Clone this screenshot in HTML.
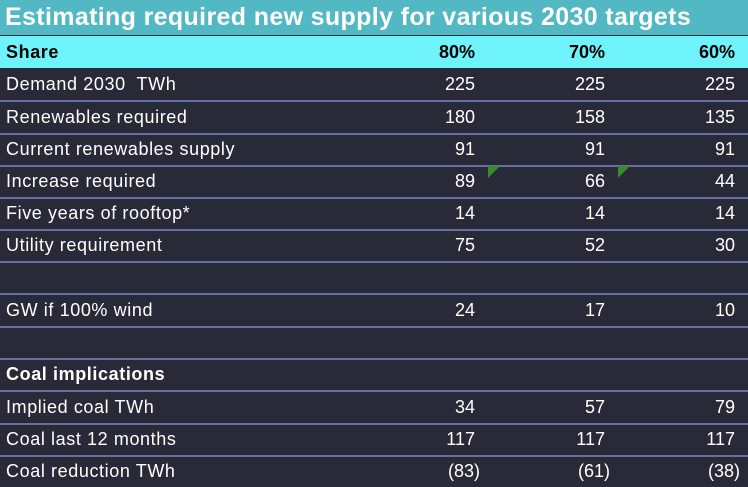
<!DOCTYPE html>
<html><head><style>
body{margin:0;width:748px;height:484px;overflow:hidden;background:#292a38;font-family:"Liberation Sans",sans-serif;position:relative}
.t{position:absolute;left:0;top:0;width:748px;height:35px;background:#52b8c4;color:#fff;font-weight:bold;font-size:25px;line-height:35px;padding-left:5px;box-sizing:border-box;white-space:nowrap;letter-spacing:0.35px}
.r{position:absolute;left:0;width:748px;height:32px;color:#fff;font-size:18px;line-height:32px}
.line{border-bottom:2px solid #6670a0}
.r span{position:absolute}
.l{left:6px;letter-spacing:0.6px}
.a{right:273px}.b{right:143px}.c{right:13px}
.tri{position:absolute;width:0;height:0;border-top:12px solid #3a8a2a;border-right:12px solid transparent}
</style></head><body>
<div class="t">Estimating required new supply for various 2030 targets</div>
<div class="r" style="top:36px;color:#000;font-weight:bold;background:#6ef3fb"><span class="l">Share</span><span class="a">80%</span><span class="b">70%</span><span class="c">60%</span></div>
<div class="r line" style="top:68px"><span class="l">Demand 2030&nbsp; TWh</span><span class="a">225</span><span class="b">225</span><span class="c">225</span></div>
<div class="r line" style="top:100.5px"><span class="l">Renewables required</span><span class="a">180</span><span class="b">158</span><span class="c">135</span></div>
<div class="r line" style="top:133px"><span class="l">Current renewables supply</span><span class="a">91</span><span class="b">91</span><span class="c">91</span></div>
<div class="r line" style="top:165px"><span class="l">Increase required</span><span class="a">89</span><span class="b">66</span><span class="c">44</span></div>
<div class="r line" style="top:197px"><span class="l">Five years of rooftop*</span><span class="a">14</span><span class="b">14</span><span class="c">14</span></div>
<div class="r line" style="top:229px"><span class="l">Utility requirement</span><span class="a">75</span><span class="b">52</span><span class="c">30</span></div>
<div class="r line" style="top:261px"></div>
<div class="r line" style="top:294px"><span class="l">GW if 100% wind</span><span class="a">24</span><span class="b">17</span><span class="c">10</span></div>
<div class="r line" style="top:326px"></div>
<div class="r line" style="top:358px;font-weight:bold"><span class="l">Coal implications</span></div>
<div class="r line" style="top:391px"><span class="l">Implied coal TWh</span><span class="a">34</span><span class="b">57</span><span class="c">79</span></div>
<div class="r line" style="top:423px"><span class="l">Coal last 12 months</span><span class="a">117</span><span class="b">117</span><span class="c">117</span></div>
<div class="r" style="top:455px"><span class="l">Coal reduction TWh</span><span class="a" style="right:268px">(83)</span><span class="b" style="right:138px">(61)</span><span class="c" style="right:8px">(38)</span></div>
<div class="tri" style="left:488px;top:166px"></div>
<div class="tri" style="left:618px;top:166px"></div>
</body></html>
